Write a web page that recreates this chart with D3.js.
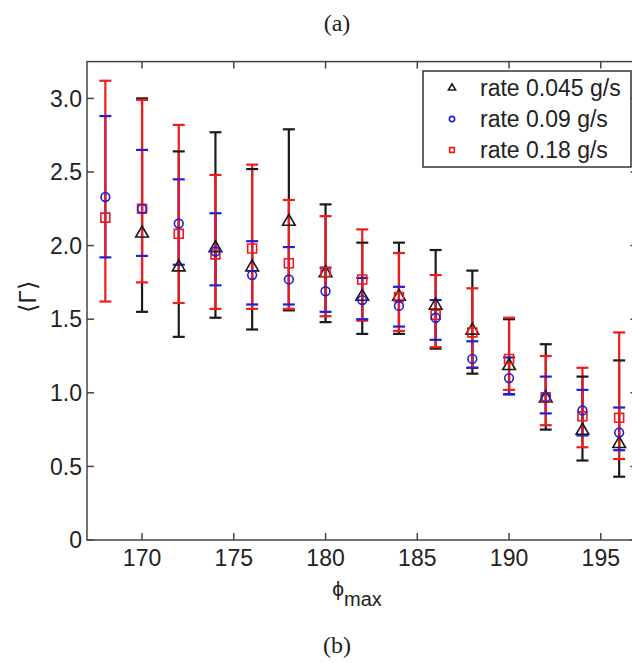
<!DOCTYPE html>
<html>
<head>
<meta charset="utf-8">
<script src="https://cdn.jsdelivr.net/npm/d3@7"></script>
<style>
  body { margin: 0; background: #fff; }
  svg text { font-family: "Liberation Sans", Arial, sans-serif; fill: #222; }
</style>
</head>
<body>
<svg id="canvas" width="632" height="663"></svg>
<script>
// phi_max positions
const phi = [168, 170, 172, 174, 176, 178, 180, 182, 184, 186, 188, 190, 192, 194, 196];

// rate 0.045 g/s (no point at 168)
const meanSlow = [null, 2.09, 1.86, 1.99, 1.86, 2.17, 1.82, 1.66, 1.66, 1.60, 1.43, 1.19, 0.97, 0.75, 0.66];
const lowSlow  = [null, 1.55, 1.38, 1.51, 1.43, 1.56, 1.48, 1.40, 1.40, 1.30, 1.13, 0.99, 0.75, 0.54, 0.43];
const highSlow = [null, 3.00, 2.64, 2.77, 2.52, 2.79, 2.28, 2.02, 2.02, 1.97, 1.83, 1.50, 1.33, 1.11, 1.22];

// rate 0.09 g/s
const meanMid = [2.33, 2.25, 2.15, 1.96, 1.80, 1.77, 1.69, 1.63, 1.59, 1.51, 1.23, 1.10, 0.97, 0.88, 0.73];
const lowMid  = [1.92, 1.93, 1.87, 1.73, 1.60, 1.60, 1.55, 1.50, 1.45, 1.36, 1.17, 0.99, 0.86, 0.71, 0.61];
const highMid = [2.88, 2.65, 2.45, 2.22, 2.03, 1.99, 1.85, 1.78, 1.72, 1.63, 1.35, 1.24, 1.11, 1.02, 0.90];

// rate 0.18 g/s
const meanFast = [2.19, 2.25, 2.08, 1.94, 1.98, 1.88, 1.82, 1.77, 1.65, 1.53, 1.41, 1.23, 0.97, 0.84, 0.83];
const lowFast  = [1.62, 1.75, 1.61, 1.57, 1.57, 1.57, 1.52, 1.49, 1.42, 1.31, 1.17, 1.02, 0.78, 0.63, 0.55];
const highFast = [3.12, 2.99, 2.82, 2.48, 2.55, 2.31, 2.20, 2.11, 1.95, 1.80, 1.71, 1.51, 1.25, 1.17, 1.41];

const seriesNames = ["rate 0.045 g/s", "rate 0.09 g/s", "rate 0.18 g/s"];
const xTicks = [170, 175, 180, 185, 190, 195];
const yTicks = [0, 0.5, 1.0, 1.5, 2.0, 2.5, 3.0];

const colors = ["#1a1a1a", "#1f1fd6", "#ee1c1c"];
const symbols = [d3.symbolTriangle, d3.symbolCircle, d3.symbolSquare];

const svg = d3.select("#canvas");
const x = d3.scaleLinear().domain([167, 197]).range([87, 637.5]);
const y = d3.scaleLinear().domain([0, 3.25]).range([540, 61.6]);

//Building one row per point for each series
const build = (mean, low, high) => phi.map((p, i) => ({ p, m: mean[i], lo: low[i], hi: high[i] }))
    .filter(d => d.m !== null);
const series = [
    build(meanSlow, lowSlow, highSlow),
    build(meanMid, lowMid, highMid),
    build(meanFast, lowFast, highFast)
];

//Plot frame
svg.append("rect")
    .attr("x", x(167)).attr("y", y(3.25))
    .attr("width", x(197) - x(167)).attr("height", y(0) - y(3.25))
    .attr("fill", "none").attr("stroke", "#444").attr("stroke-width", 1.5);

//Inward ticks on all sides
const tickLen = 7;
xTicks.forEach(t => {
    svg.append("line").attr("x1", x(t)).attr("x2", x(t)).attr("y1", y(0)).attr("y2", y(0) - tickLen)
        .attr("stroke", "#444").attr("stroke-width", 1.5);
    svg.append("line").attr("x1", x(t)).attr("x2", x(t)).attr("y1", y(3.25)).attr("y2", y(3.25) + tickLen)
        .attr("stroke", "#444").attr("stroke-width", 1.5);
    svg.append("text").attr("x", x(t)).attr("y", 566).attr("text-anchor", "middle")
        .style("font-size", "23px").text(t);
});
yTicks.forEach(t => {
    svg.append("line").attr("x1", x(167)).attr("x2", x(167) + tickLen).attr("y1", y(t)).attr("y2", y(t))
        .attr("stroke", "#444").attr("stroke-width", 1.5);
    svg.append("line").attr("x1", x(197)).attr("x2", x(197) - tickLen).attr("y1", y(t)).attr("y2", y(t))
        .attr("stroke", "#444").attr("stroke-width", 1.5);
    svg.append("text").attr("x", 82).attr("y", y(t)).attr("dy", "0.36em").attr("text-anchor", "end")
        .style("font-size", "23px").text(t === 0 ? "0" : t.toFixed(1));
});

//Error bar stems: black, blue, red
series.forEach((s, k) => {
    svg.append("g").selectAll("line").data(s).enter().append("line")
        .attr("x1", d => x(d.p)).attr("x2", d => x(d.p))
        .attr("y1", d => y(d.lo)).attr("y2", d => y(d.hi))
        .attr("stroke", colors[k]).attr("stroke-width", 2.2);
});

//Caps: black, red, then blue on top
const capHalf = 6;
[0, 2, 1].forEach(k => {
    const g = svg.append("g");
    ["lo", "hi"].forEach(key => {
        g.selectAll(".cap-" + key).data(series[k]).enter().append("line")
            .attr("class", "cap-" + key)
            .attr("x1", d => x(d.p) - capHalf).attr("x2", d => x(d.p) + capHalf)
            .attr("y1", d => y(d[key])).attr("y2", d => y(d[key]))
            .attr("stroke", colors[k]).attr("stroke-width", 2.2);
    });
});

//Markers
const symSizes = [70, 60, 80];
[0, 2, 1].forEach(k => {
    svg.append("g").selectAll("path").data(series[k]).enter().append("path")
        .attr("transform", d => `translate(${x(d.p)},${y(d.m) + (k === 0 ? 1 : 0)})`)
        .attr("d", d3.symbol().type(symbols[k]).size(symSizes[k]))
        .attr("fill", "none").attr("stroke", colors[k]).attr("stroke-width", 1.6);
});

//Legend
const legend = svg.append("g").attr("transform", "translate(423,71)");
legend.append("rect").attr("width", 208).attr("height", 96)
    .attr("fill", "#fff").attr("stroke", "#333").attr("stroke-width", 1.5);
seriesNames.forEach((name, k) => {
    const cy = 17 + k * 31;
    legend.append("path")
        .attr("transform", `translate(29,${cy})`)
        .attr("d", d3.symbol().type(symbols[k]).size(22))
        .attr("fill", "none").attr("stroke", colors[k]).attr("stroke-width", 1.6);
    legend.append("text").attr("x", 57).attr("y", cy).attr("dy", "0.36em")
        .style("font-size", "23px").text(name);
});

//Axis titles
svg.append("text")
    .attr("transform", "translate(36,297) rotate(-90)")
    .attr("text-anchor", "middle")
    .style("font-size", "24px")
    .text("\u27E8\u0393\u27E9");
const xl = svg.append("text").attr("x", 357).attr("y", 596).attr("text-anchor", "middle");
xl.append("tspan").style("font-size", "21px").text("\u03D5");
xl.append("tspan").attr("dy", 10).style("font-size", "20px").text("max");

//Panel labels
svg.append("text").attr("x", 337).attr("y", 31).attr("text-anchor", "middle")
    .style("font-family", "'Liberation Serif', 'Times New Roman', serif").style("font-size", "24px")
    .text("(a)");
svg.append("text").attr("x", 337).attr("y", 653).attr("text-anchor", "middle")
    .style("font-family", "'Liberation Serif', 'Times New Roman', serif").style("font-size", "24px")
    .text("(b)");
</script>
</body>
</html>
